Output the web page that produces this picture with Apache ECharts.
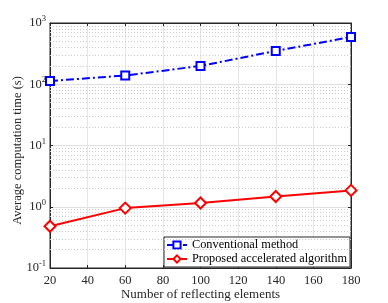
<!DOCTYPE html>
<html><head><meta charset="utf-8">
<script src="https://cdn.jsdelivr.net/npm/echarts@6/dist/echarts.min.js"></script>
<style>html,body{margin:0;padding:0;background:#fff}#c{width:388px;height:303px}</style>
</head><body><div id="c"></div>
<script>
const categories = [20, 60, 100, 140, 180];
const conventional = [113, 139, 199, 350, 590];
const proposed = [0.48, 0.95, 1.15, 1.47, 1.85];
const xTicks = [20, 40, 60, 80, 100, 120, 140, 160, 180];
const yTicks = [0.1, 1, 10, 100, 1000];
const yTickExp = ['-1', '0', '1', '2', '3'];

const FONT = 'Liberation Serif';
const chart = echarts.init(document.getElementById('c'));
const minorVals = [];
for (let e = -1; e < 3; e++) for (let m = 2; m <= 9; m++) minorVals.push(m * Math.pow(10, e));

function yLabel(v) {
  const i = yTicks.findIndex(t => Math.abs(Math.log10(t) - Math.log10(v)) < 1e-6);
  if (i < 0) return '';
  return '{b|10}{s|' + yTickExp[i] + '}';
}
const rich = { b: { fontFamily: FONT, fontSize: 12.5, color: '#262626' }, s: { fontFamily: FONT, fontSize: 8.5, color: '#262626', verticalAlign: 'bottom', padding: [0, 0, 8, 0] } };

chart.setOption({
  animation: false,
  grid: { left: 50, right: 37, top: 23, bottom: 35, show: true, borderColor: '#262626', borderWidth: 1, outerBoundsMode: 'none', containLabel: false },
  legend: {
    right: 38, bottom: 36, orient: 'vertical', backgroundColor: '#fff', borderColor: '#262626', borderWidth: 1,
    padding: [2, 3, 2, 2], itemGap: 2, itemWidth: 20, itemHeight: 9,
    textStyle: { fontFamily: FONT, fontSize: 12.3, color: '#000' }
  },
  xAxis: [{
    type: 'value', min: 20, max: 180, interval: 20,
    name: 'Number of reflecting elements', nameLocation: 'middle', nameGap: 20, nameMoveOverlap: false,
    nameTextStyle: { fontFamily: FONT, fontSize: 13, color: '#262626' },
    axisLine: { lineStyle: { color: '#262626' } },
    axisTick: { inside: true, length: 3, lineStyle: { color: '#262626' } },
    axisLabel: { fontFamily: FONT, fontSize: 12.5, color: '#262626', margin: 6 },
    splitLine: { show: true, lineStyle: { color: '#e6e6e6', width: 1 } }
  }, {
    type: 'value', min: 20, max: 180, interval: 20, position: 'top',
    axisLine: { lineStyle: { color: '#262626' } },
    axisTick: { inside: true, length: 3, lineStyle: { color: '#262626' } },
    axisLabel: { show: false }, splitLine: { show: false }
  }],
  yAxis: [{
    type: 'log', min: 0.1, max: 1000, logBase: 10,
    name: 'Average computation time (s)', nameLocation: 'middle', nameGap: 26, nameMoveOverlap: false,
    nameTextStyle: { fontFamily: FONT, fontSize: 12.5, color: '#262626', padding: [0, 10, 0, 0] },
    axisLine: { lineStyle: { color: '#262626' } },
    axisTick: { inside: true, length: 3, lineStyle: { color: '#262626' } },
    axisLabel: { formatter: yLabel, rich: rich, margin: 4 },
    splitLine: { show: true, lineStyle: { color: '#e0e0e0', width: 1 } }
  }, {
    type: 'log', min: 0.1, max: 1000, logBase: 10, position: 'right',
    axisLine: { lineStyle: { color: '#262626' } },
    axisTick: { inside: true, length: 3, lineStyle: { color: '#262626' } },
    axisLabel: { show: false }, splitLine: { show: false }
  }],
  series: [{
    name: 'Conventional method', type: 'line',
    data: categories.map((c, i) => [c, conventional[i]]),
    symbol: 'rect', symbolSize: 8, color: '#0000ff',
    lineStyle: { color: '#0000ff', width: 2, type: [8, 3, 2, 3] },
    itemStyle: { color: '#fff', borderColor: '#0000ff', borderWidth: 2 },
    markLine: {
      silent: true, symbol: 'none', label: { show: false },
      lineStyle: { color: '#cccccc', width: 1, type: [1, 2] },
      data: minorVals.map(v => ({ yAxis: v }))
    }, z: 5
  }, {
    name: 'Proposed accelerated algorithm', type: 'line',
    data: categories.map((c, i) => [c, proposed[i]]),
    symbol: 'diamond', symbolSize: 11, color: '#ff0000',
    lineStyle: { color: '#ff0000', width: 2 },
    itemStyle: { color: '#fff', borderColor: '#ff0000', borderWidth: 2 }, z: 5
  }]
});
</script></body></html>
